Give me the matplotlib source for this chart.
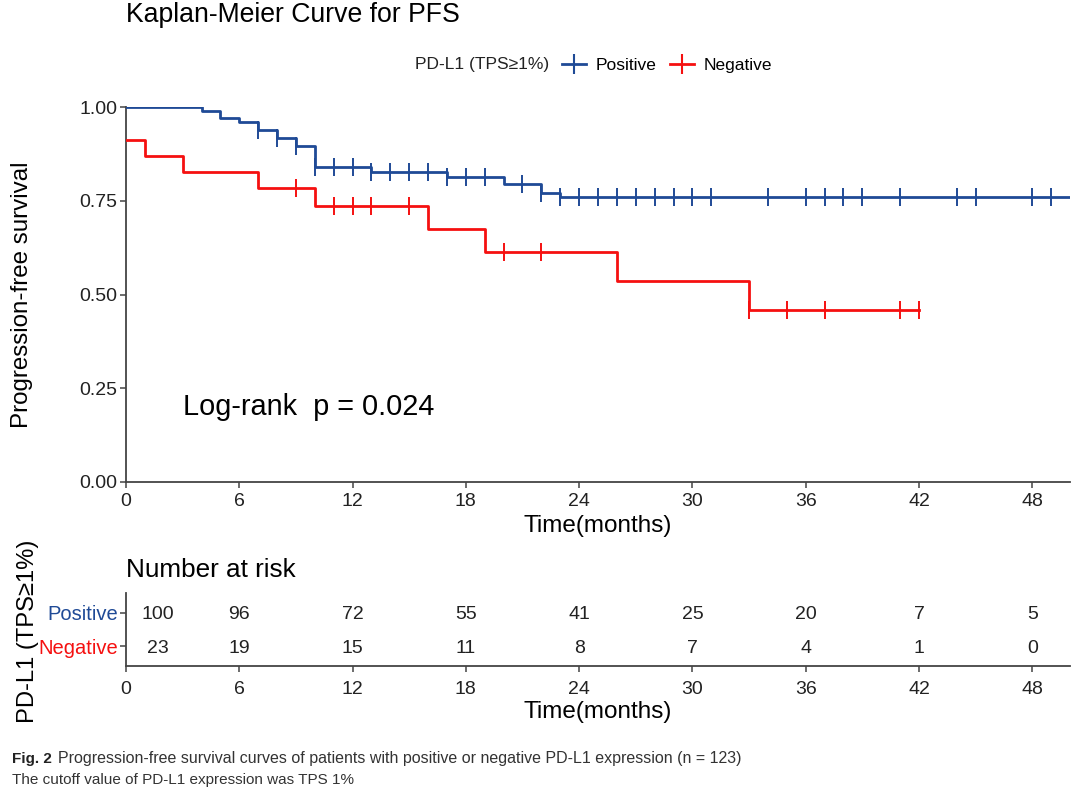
import numpy as np
import matplotlib
matplotlib.use("Agg")
import matplotlib.pyplot as plt
from matplotlib.lines import Line2D
import matplotlib.transforms as mtransforms

plt.rcParams['font.family'] = ['Liberation Sans', 'DejaVu Sans']

# ---------------- data ----------------
groups = ["Positive", "Negative"]
legend_title = "PD-L1 (TPS\u22651%)"

pos_times = [0, 4, 5, 6, 7, 8, 9, 10, 13, 17, 20, 22, 23]
pos_surv = [1.0, 0.99, 0.97, 0.96, 0.94, 0.917, 0.895, 0.841, 0.828, 0.814, 0.795, 0.77, 0.76]
pos_end = 50
pos_censor = [7, 8, 9, 10, 11, 12, 13, 14, 15, 16, 17, 18, 19, 21, 22, 23, 24, 25, 26,
              27, 28, 29, 30, 31, 34, 36, 37, 38, 39, 41, 44, 45, 48, 49]

neg_times = [0, 1, 3, 7, 10, 16, 19, 26, 33]
neg_surv = [0.913, 0.870, 0.826, 0.783, 0.737, 0.675, 0.614, 0.537, 0.46]
neg_end = 42
neg_censor = [9, 11, 12, 13, 15, 20, 22, 33, 35, 37, 41, 42]

risk_times = [0, 6, 12, 18, 24, 30, 36, 42, 48]
risk_pos = [100, 96, 72, 55, 41, 25, 20, 7, 5]
risk_neg = [23, 19, 15, 11, 8, 7, 4, 1, 0]

x_ticks = [0, 6, 12, 18, 24, 30, 36, 42, 48]
y_ticks = [0.00, 0.25, 0.50, 0.75, 1.00]
pval_text = "Log-rank  p = 0.024"

BLUE = "#1F4A96"
RED = "#F51010"
AXC = "#444444"
TXT = "#222222"

W, H = 1080, 799
fig = plt.figure(figsize=(W / 100, H / 100), dpi=100)


def fx(px):
    return px / W


def fy(py):
    return 1 - py / H


# ---------------- main KM axes ----------------
ax = fig.add_axes([fx(126), fy(482), fx(1070) - fx(126), fy(107) - fy(482)])


def surv_at(times, surv, t):
    idx = np.searchsorted(times, t, side='right') - 1
    return np.asarray(surv)[idx]


for times, surv, end, cens, col in [(pos_times, pos_surv, pos_end, pos_censor, BLUE),
                                    (neg_times, neg_surv, neg_end, neg_censor, RED)]:
    tt = list(times) + [end]
    ss = list(surv) + [surv[-1]]
    ax.step(tt, ss, where='post', color=col, lw=2.0, zorder=3)
    cy = surv_at(times, surv, np.array(cens))
    ax.plot(cens, cy, linestyle='none', marker='|', markersize=13, markeredgewidth=1.4,
            color=col, zorder=4)

ax.set_xlim(0, 50)
ax.set_ylim(0, 1)
ax.set_xticks(x_ticks)
ax.set_yticks(y_ticks)
ax.set_yticklabels([f"{v:.2f}" for v in y_ticks])
for s in ['top', 'right']:
    ax.spines[s].set_visible(False)
for s in ['left', 'bottom']:
    ax.spines[s].set_color(AXC)
    ax.spines[s].set_linewidth(1.3)
ax.tick_params(axis='both', colors=AXC, labelcolor=TXT, labelsize=14, length=4, width=1.1, pad=2)
ax.tick_params(axis='x', pad=4)
ax.set_xlabel("Time(months)", fontsize=17.5, color='black')
ax.xaxis.set_label_coords(0.5, 0, transform=mtransforms.blended_transform_factory(
    ax.transAxes, fig.transFigure))
ax.xaxis.label.set_va('center')
ax.xaxis.label.set_position((0.5, fy(526)))
ax.set_ylabel("Progression-free survival", fontsize=17.4, color='black')
ax.yaxis.set_label_coords(fx(22), 0.5, transform=mtransforms.blended_transform_factory(
    fig.transFigure, ax.transAxes))
ax.yaxis.label.set_va('center')
ax.text(3, 0.2, pval_text, fontsize=20.8, color='black', ha='left', va='center')

fig.text(fx(126), fy(15), "Kaplan-Meier Curve for PFS", fontsize=19.2, ha='left', va='center',
         color='black')

# legend
fig.text(fx(415), fy(64), legend_title, fontsize=12.5, ha='left', va='center', color=TXT)
handles = [Line2D([], [], color=BLUE, lw=2.0, marker='|', markersize=14, markeredgewidth=1.5),
           Line2D([], [], color=RED, lw=2.0, marker='|', markersize=14, markeredgewidth=1.5)]
fig.legend(handles, groups, loc='center left', bbox_to_anchor=(fx(562), fy(65)), ncol=2,
           frameon=False, fontsize=12.5, handlelength=1.4, handletextpad=0.55, columnspacing=0.75,
           borderaxespad=0, borderpad=0)

# ---------------- risk table axes ----------------
rax = fig.add_axes([fx(126), fy(666), fx(1070) - fx(126), fy(593) - fy(666)])
rax.set_xlim(0, 50)
rax.set_ylim(0.4, 2.6)
first_off = mtransforms.offset_copy(rax.transData, fig=fig, x=32, y=0, units='dots')
for i, t in enumerate(risk_times):
    tr = first_off if i == 0 else rax.transData
    rax.text(t, 2, str(risk_pos[i]), transform=tr, ha='center', va='center_baseline',
             fontsize=14, color=TXT)
    rax.text(t, 1, str(risk_neg[i]), transform=tr, ha='center', va='center_baseline',
             fontsize=14, color=TXT)
rax.set_xticks(x_ticks)
rax.set_yticks([2, 1])
rax.set_yticklabels(groups)
for s in ['top', 'right']:
    rax.spines[s].set_visible(False)
for s in ['left', 'bottom']:
    rax.spines[s].set_color(AXC)
    rax.spines[s].set_linewidth(1.3)
rax.tick_params(axis='both', colors=AXC, length=4, width=1.1, pad=2)
rax.tick_params(axis='x', labelcolor=TXT, labelsize=14, pad=7)
rax.tick_params(axis='y', labelsize=14.5)
for lab, col in zip(rax.get_yticklabels(), [BLUE, RED]):
    lab.set_color(col)
rax.set_xlabel("Time(months)", fontsize=17.5, color='black')
rax.xaxis.set_label_coords(0.5, 0, transform=mtransforms.blended_transform_factory(
    rax.transAxes, fig.transFigure))
rax.xaxis.label.set_va('center')
rax.xaxis.label.set_position((0.5, fy(712)))
fig.text(fx(126), fy(570), "Number at risk", fontsize=18.8, ha='left', va='center', color='black')
fig.text(fx(28), fy(631), legend_title, rotation=90, fontsize=17.1, ha='center', va='center',
         color='black')

# ---------------- caption ----------------
cap_font = ['Liberation Sans Narrow', 'Liberation Sans', 'DejaVu Sans']
fig.text(fx(12), fy(759), "Fig. 2", fontsize=11, fontweight='bold', family=cap_font,
         ha='left', va='center', color='#222222')
fig.text(fx(58), fy(759),
         "Progression-free survival curves of patients with positive or negative PD-L1 expression (n = 123)",
         fontsize=11.5, family=cap_font, ha='left', va='center', color='#333333')
fig.text(fx(12), fy(780), "The cutoff value of PD-L1 expression was TPS 1%", fontsize=11,
         family=cap_font, ha='left', va='center', color='#333333')

fig.savefig("out.png", dpi=100)
